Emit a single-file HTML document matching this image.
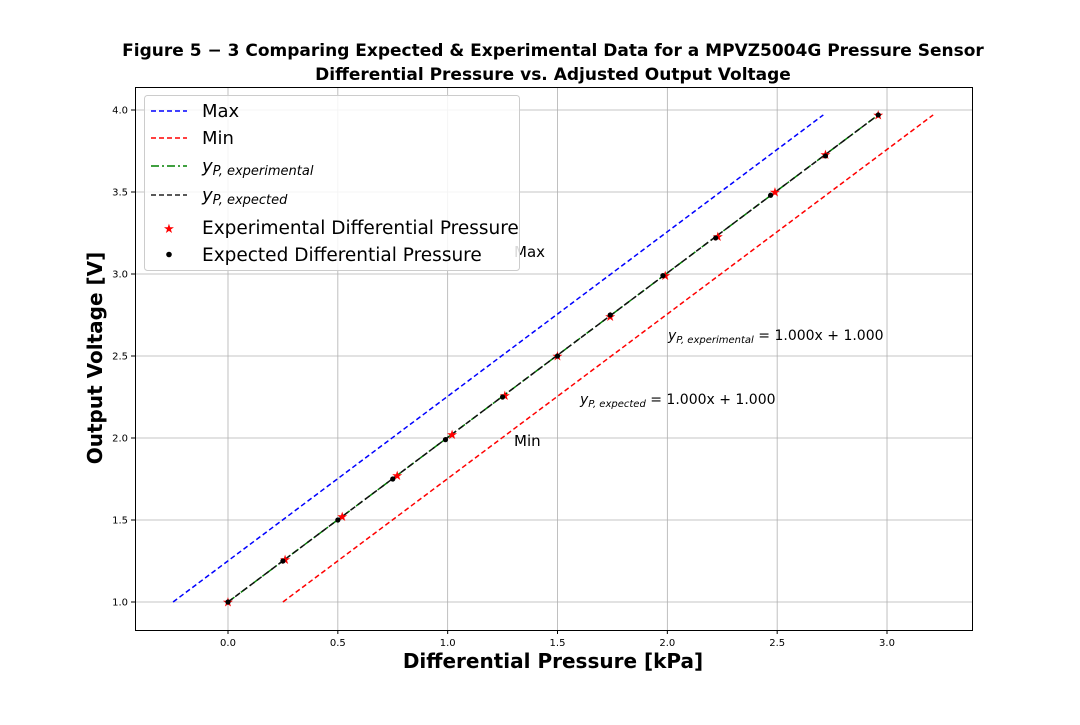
<!DOCTYPE html>
<html><head><meta charset="utf-8"><style>
body{margin:0;background:#fff;}
svg{font-family:"DejaVu Sans","Liberation Sans",sans-serif;}
</style></head><body>
<svg id="chart" width="1080" height="720">
<text x="553" y="56" text-anchor="middle" font-size="17" font-weight="bold">Figure 5 − 3 Comparing Expected &amp; Experimental Data for a MPVZ5004G Pressure Sensor</text>
<text x="553" y="80" text-anchor="middle" font-size="17" font-weight="bold">Differential Pressure vs.  Adjusted Output Voltage</text>
<g id="grid"></g><g id="marks"></g>
<rect x="135.5" y="87.5" width="837" height="543" fill="none" stroke="#000"/>
<g id="ticks" font-size="10"></g>
<text x="553" y="668" text-anchor="middle" font-size="20" font-weight="bold">Differential Pressure [kPa]</text>
<text transform="translate(102,358) rotate(-90)" text-anchor="middle" font-size="20" font-weight="bold">Output Voltage [V]</text>
<text x="514" y="257" font-size="15">Max</text>
<text x="514" y="446" font-size="15">Min</text>
<text x="668" y="340" font-size="14"><tspan font-style="italic">y</tspan><tspan font-size="10" font-style="italic" dy="3">P, experimental</tspan><tspan dy="-3"> = 1.000x + 1.000</tspan></text>
<text x="580" y="404" font-size="14"><tspan font-style="italic">y</tspan><tspan font-size="10" font-style="italic" dy="3">P, expected</tspan><tspan dy="-3"> = 1.000x + 1.000</tspan></text>
<g>
<rect x="144.5" y="95.5" width="375" height="175" rx="3" fill="#fff" fill-opacity="0.85" stroke="#ccc"/>
<line x1="151" y1="111" x2="187" y2="111" stroke="blue" stroke-width="1.5" stroke-dasharray="5,3"/>
<text x="202" y="117" font-size="18">Max</text>
<line x1="151" y1="138" x2="187" y2="138" stroke="red" stroke-width="1.5" stroke-dasharray="5,3"/>
<text x="202" y="144" font-size="18">Min</text>
<line x1="151" y1="166" x2="187" y2="166" stroke="green" stroke-width="1.5" stroke-dasharray="8,3,2,3"/>
<text x="202" y="172" font-size="18"><tspan font-style="italic">y</tspan><tspan font-size="13" font-style="italic" dy="3">P, experimental</tspan></text>
<line x1="151" y1="195" x2="187" y2="195" stroke="#222" stroke-width="1.5" stroke-dasharray="5,3"/>
<text x="202" y="201" font-size="18"><tspan font-style="italic">y</tspan><tspan font-size="13" font-style="italic" dy="3">P, expected</tspan></text>
<text x="169" y="233" font-size="13" fill="red" text-anchor="middle">★</text>
<text x="202" y="234" font-size="18.5">Experimental Differential Pressure</text>
<circle cx="169" cy="254.5" r="2.8" fill="#000"/>
<text x="202" y="261" font-size="18.5">Expected Differential Pressure</text>
</g>
</svg>
<script>
const xTicks=[0.0,0.5,1.0,1.5,2.0,2.5,3.0];
const yTicks=[1.0,1.5,2.0,2.5,3.0,3.5,4.0];
const maxLine=[[-0.25,1.0],[2.71,3.97]];
const minLine=[[0.25,1.0],[3.21,3.97]];
const fitLine=[[0.0,1.0],[2.96,3.97]];
const expX=[0,0.26,0.52,0.77,1.02,1.26,1.50,1.74,1.99,2.23,2.49,2.72,2.96];
const expY=[1,1.26,1.52,1.77,2.02,2.26,2.50,2.74,2.99,3.23,3.50,3.73,3.97];
const expdX=[0,0.25,0.50,0.75,0.99,1.25,1.50,1.74,1.98,2.22,2.47,2.72,2.96];
const expdY=[1,1.25,1.50,1.75,1.99,2.25,2.50,2.75,2.99,3.22,3.48,3.72,3.97];
const NS="http://www.w3.org/2000/svg";
const sx=v=>228+v*219.67, sy=v=>602-(v-1)*164;
const grid=document.getElementById('grid'),marks=document.getElementById('marks'),ticks=document.getElementById('ticks');
function mk(tag,attrs,parent){const e=document.createElementNS(NS,tag);for(const k in attrs)e.setAttribute(k,attrs[k]);parent.appendChild(e);return e;}
xTicks.forEach(v=>{const x=sx(v);
 const g=mk('line',{x1:x,x2:x,y1:87,y2:630,stroke:'#b0b0b0','stroke-width':0.8},grid);
 
 
 mk('line',{x1:x,x2:x,y1:630,y2:634,stroke:'#000'},ticks);
 const t=mk('text',{x:x,y:646,'text-anchor':'middle'},ticks);t.textContent=v.toFixed(1);
 
 });
yTicks.forEach(v=>{const y=sy(v);
 const g=mk('line',{x1:135,x2:972,y1:y,y2:y,stroke:'#b0b0b0','stroke-width':0.8},grid);
 
 
 mk('line',{x1:131,x2:135,y1:y,y2:y,stroke:'#000'},ticks);
 const t=mk('text',{x:128,y:y+3.5,'text-anchor':'end'},ticks);t.textContent=v.toFixed(1);
 
 });
function line(p,color,dash,name){const l=mk('line',{x1:sx(p[0][0]),y1:sy(p[0][1]),x2:sx(p[1][0]),y2:sy(p[1][1]),stroke:color,'stroke-width':1.5,'stroke-dasharray':dash},marks);
 
 }
line(maxLine,'blue','5,3','max-line');
line(minLine,'red','5,3','min-line');
line(fitLine,'green','8,3,2,3','experimental-fit-line');
line(fitLine,'#111','6,3','expected-fit-line');
expX.forEach((v,i)=>{const t=mk('text',{x:sx(v),y:sy(expY[i])+4.5,'text-anchor':'middle','font-size':13,fill:'red'},marks);t.textContent='★';
 
 });
expdX.forEach((v,i)=>{const c=mk('circle',{cx:sx(v),cy:sy(expdY[i]),r:2.6,fill:'#000'},marks);
 
 });
</script>
</body></html>
